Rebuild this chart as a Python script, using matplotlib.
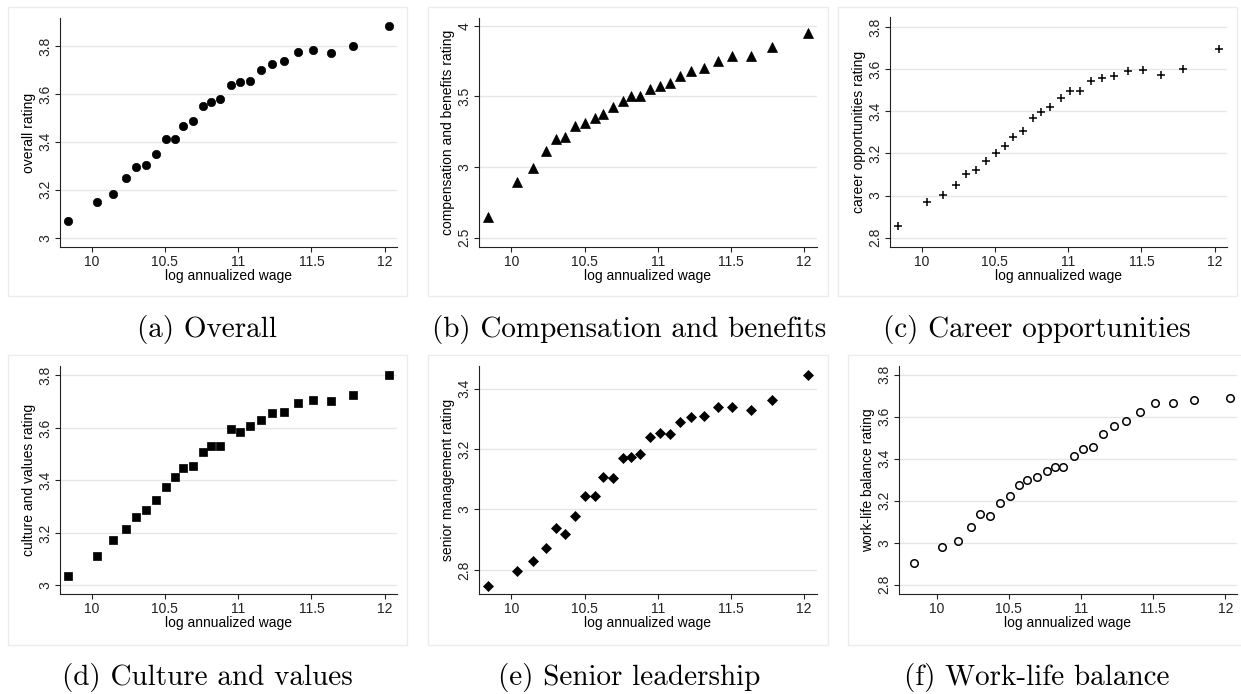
# binned scatter: ratings vs log annualized wage

import numpy as np
import matplotlib
matplotlib.use('Agg')
import matplotlib.pyplot as plt
from matplotlib.patches import Rectangle

W, H = 1241, 694
fontsize = 10
plt.rcParams['font.family'] = ['Liberation Sans', 'DejaVu Sans']

# shared x bins (log annualized wage)
wage = [9.84, 10.035, 10.145, 10.237, 10.302, 10.368, 10.436, 10.505, 10.57,
        10.626, 10.695, 10.762, 10.816, 10.878, 10.948, 11.015, 11.084, 11.155,
        11.23, 11.314, 11.41, 11.51, 11.636, 11.782, 12.03]

overall = [3.068, 3.148, 3.182, 3.251, 3.295, 3.303, 3.349, 3.412, 3.412, 3.468,
           3.486, 3.551, 3.568, 3.578, 3.637, 3.648, 3.654, 3.701, 3.725, 3.737,
           3.776, 3.785, 3.771, 3.801, 3.884]
comp = [2.647, 2.895, 2.994, 3.113, 3.200, 3.214, 3.290, 3.311, 3.345, 3.378,
        3.422, 3.470, 3.501, 3.501, 3.551, 3.574, 3.593, 3.643, 3.676, 3.697,
        3.747, 3.782, 3.787, 3.846, 3.945]
career = [2.857, 2.969, 3.004, 3.052, 3.104, 3.123, 3.162, 3.200, 3.237, 3.278,
          3.305, 3.368, 3.398, 3.421, 3.463, 3.498, 3.498, 3.546, 3.559, 3.568,
          3.592, 3.597, 3.573, 3.600, 3.694]
culture = [3.036, 3.112, 3.174, 3.213, 3.260, 3.289, 3.324, 3.375, 3.413, 3.448,
           3.455, 3.508, 3.530, 3.532, 3.597, 3.585, 3.606, 3.631, 3.658, 3.659,
           3.695, 3.708, 3.704, 3.724, 3.803]
senior = [2.748, 2.797, 2.829, 2.872, 2.937, 2.920, 2.978, 3.046, 3.043, 3.108,
          3.103, 3.172, 3.174, 3.184, 3.239, 3.253, 3.249, 3.288, 3.306, 3.309,
          3.339, 3.339, 3.329, 3.363, 3.446]
worklife = [2.904, 2.980, 3.009, 3.077, 3.135, 3.129, 3.191, 3.224, 3.275, 3.300,
            3.315, 3.342, 3.361, 3.359, 3.413, 3.448, 3.456, 3.516, 3.554, 3.578,
            3.622, 3.663, 3.666, 3.679, 3.687]

ylabels = ['overall rating', 'compensation and benefits rating',
           'career opportunities rating', 'culture and values rating',
           'senior management rating', 'work-life balance rating']
captions = ['(a) Overall', '(b) Compensation and benefits', '(c) Career opportunities',
            '(d) Culture and values', '(e) Senior leadership', '(f) Work-life balance']
yticks = [[3, 3.2, 3.4, 3.6, 3.8], [2.5, 3, 3.5, 4], [2.8, 3, 3.2, 3.4, 3.6, 3.8],
          [3, 3.2, 3.4, 3.6, 3.8], [2.8, 3, 3.2, 3.4], [2.8, 3, 3.2, 3.4, 3.6, 3.8]]
xticks = [10, 10.5, 11, 11.5, 12]
xTickMarks = ['10', '10.5', '11', '11.5', '12']

series = [overall, comp, career, culture, senior, worklife]

# marker styles (marker, size, face, edge width)
styles = [('o', 6.0, 'black', 0.5), ('^', 6.8, 'black', 0.5), ('+', 5.2, 'black', 1.1),
          ('s', 6.2, 'black', 0.5), ('D', 5.4, 'black', 0.5), ('o', 5.4, 'none', 1.1)]

# layout in pixels: axes (left, right, top, bottom), panel box, caption centre
axes_px = [(60, 397, 18, 247), (479, 817, 18, 247), (890, 1227, 17, 247),
           (60, 397, 366, 594), (479, 817, 366, 594), (899, 1237, 366, 594)]
box_px = [(8, 407, 7, 296), (428, 828, 7, 296), (838, 1237, 7, 296),
          (8, 407, 355, 645), (428, 828, 355, 645), (848, 1245, 355, 645)]
cap_px = [(207, 329), (629, 329), (1037, 329), (207, 677), (629, 677), (1037, 677)]
xlims = [(9.784, 12.084), (9.778, 12.09), (9.784, 12.084),
         (9.784, 12.084), (9.778, 12.09), (9.739, 12.08)]
ylims = [(2.961, 3.917), (2.434, 4.054), (2.756, 3.848),
         (2.967, 3.836), (2.720, 3.475), (2.756, 3.841)]

fig = plt.figure(figsize=(W / 100, H / 100), dpi=100)

for i in range(6):
    # light panel frame
    bl, br, bt, bb = box_px[i]
    fig.patches.append(Rectangle((bl / W, 1 - bb / H), (br - bl) / W, (bb - bt) / H,
                                 transform=fig.transFigure, fill=False,
                                 edgecolor='#ececec', linewidth=1.0, zorder=0))

    l, r, t, b = axes_px[i]
    ax = fig.add_axes([l / W, 1 - b / H, (r - l) / W, (b - t) / H])
    m, ms, fc, mew = styles[i]
    ax.plot(wage, series[i], linestyle='none', marker=m, markersize=ms,
            markerfacecolor=fc, markeredgecolor='black', markeredgewidth=mew,
            clip_on=False, zorder=3)

    ax.set_xlim(*xlims[i])
    ax.set_ylim(*ylims[i])
    ax.set_xticks(xticks)
    ax.set_xticklabels(xTickMarks)
    ax.set_yticks(yticks[i])
    ax.set_yticklabels([('%g' % v) for v in yticks[i]], rotation=90, va='center')
    ax.tick_params(labelsize=fontsize, length=3.5, width=0.8, pad=2, colors='#222222')
    ax.grid(axis='y', color='#e6e6e6', linewidth=1.0)
    ax.set_axisbelow(True)
    for s in ['top', 'right']:
        ax.spines[s].set_visible(False)
    for s in ['left', 'bottom']:
        ax.spines[s].set_linewidth(0.8)
        ax.spines[s].set_color('#222222')
    ax.set_xlabel('log annualized wage', fontsize=fontsize, labelpad=0)
    ax.set_ylabel(ylabels[i], fontsize=fontsize, labelpad=2)

    cx, cy = cap_px[i]
    fig.text(cx / W, 1 - cy / H, captions[i], family='cmr10', fontsize=21,
             ha='center', va='center')

fig.savefig('out.png', dpi=100)
